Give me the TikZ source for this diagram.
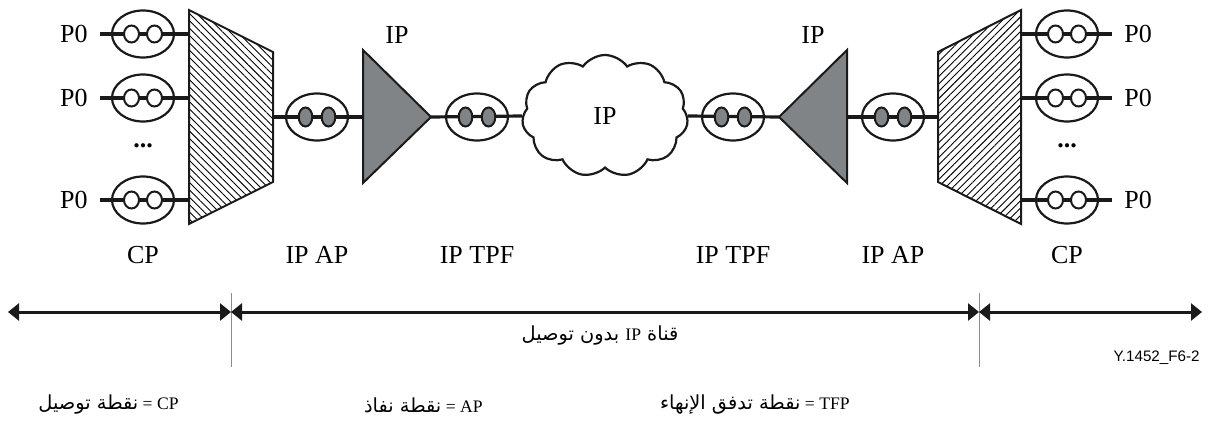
\documentclass[tikz,border=0pt]{standalone}
\usepackage{fontspec}
\setmainfont{Liberation Serif}
\setsansfont{Liberation Sans}
\newfontfamily\arabicfont[Script=Arabic,Scale=1.1]{DejaVu Sans}
\TeXXeTstate=1
\usetikzlibrary{shapes,shapes.geometric,shapes.symbols}
\usetikzlibrary{calc,arrows.meta,patterns.meta,positioning}
\definecolor{ink}{RGB}{26,26,26}
\definecolor{ipgray}{RGB}{128,132,135}
\tikzset{
  lbl/.style={font=\fontsize{13}{15}\selectfont, inner sep=0pt},
  small/.style={font=\fontsize{8.8}{10}\selectfont, inner sep=0pt},
  port/.style={ellipse, draw=ink, line width=1.1pt, minimum width=31pt, minimum height=23.5pt, inner sep=0pt},
  wdot/.style={ellipse, draw=ink, fill=white, line width=1pt, minimum width=7.5pt, minimum height=8.5pt, inner sep=0pt},
  gdot/.style={wdot, fill=ipgray, minimum width=6.8pt, minimum height=9.5pt},
  link/.style={draw=ink, line width=1.6pt},
  muxL/.style={draw=ink, line width=1pt, pattern={Lines[angle=-45, distance=2.6pt, line width=0.45pt]}},
  muxR/.style={draw=ink, line width=1pt, pattern={Lines[angle=45, distance=2.6pt, line width=0.45pt]}},
  tri/.style={draw=ink, line width=1pt, fill=ipgray},
  tick/.style={draw=black!45, line width=0.5pt},
  span/.style={draw=ink, line width=1.5pt, {Triangle[length=5.5pt,width=8.5pt]}-{Triangle[length=5.5pt,width=8.5pt]}}
}
\begin{document}
\begin{tikzpicture}[x=0.5pt,y=-0.5pt]
\useasboundingbox (0,0) rectangle (1213,427);

% multiplexers
\draw[muxL] (189,10) -- (273,52) -- (273,182) -- (189,224) -- cycle;
\draw[muxR] (1021,10) -- (938,52) -- (938,182) -- (1021,224) -- cycle;
\coordinate (muxL-out) at (273,117);
\coordinate (muxR-out) at (938,117);

% P0 ports, both sides
\foreach \n/\y in {1/34,2/98,3/200}{
  \coordinate (muxL\n) at (189,\y);
  \coordinate (muxR\n) at (1021,\y);
  \node[lbl, anchor=east, inner xsep=6pt] (p0L\n) at (100,\y) {P0};
  \node[lbl, anchor=west, inner xsep=6pt] (p0R\n) at (1112,\y) {P0};
  \node[port] (pL\n) at (143,\y) {};
  \node[port] (pR\n) at (1067,\y) {};
  \draw[link] (p0L\n.east) -- (muxL\n);
  \draw[link] (p0R\n.west) -- (muxR\n);
  \node[wdot] (pL\n-a) at (131.5,\y) {};
  \node[wdot] (pL\n-b) at (154.5,\y) {};
  \node[wdot] (pR\n-a) at (1055.5,\y) {};
  \node[wdot] (pR\n-b) at (1078.5,\y) {};
}
\node[lbl] (moreL) at (143,146) {\textbf{...}};
\node[lbl] (moreR) at (1067,146) {\textbf{...}};

% IP nodes
\draw[tri] (363,50) -- (431,117) -- (363,183) -- cycle;
\draw[tri] (847,50) -- (779,117) -- (847,183) -- cycle;
\coordinate (ipL-in) at (363,117);
\coordinate (ipL-out) at (431,117);
\coordinate (ipR-in) at (847,117);
\coordinate (ipR-out) at (779,117);
\node[lbl] (ipL) at (397,35) {IP};
\node[lbl] (ipR) at (813,35) {IP};

\node[cloud, cloud puffs=11, cloud puff arc=110, cloud ignores aspect, draw=ink, line width=1.1pt,
      minimum width=83pt, minimum height=61pt, lbl] (net) at (605,116) {IP};

% access and termination points
\node[port] (apL) at (317,117) {};
\node[port] (tpfL) at (477,117) {};
\node[port] (tpfR) at (733,117) {};
\node[port] (apR) at (893,117) {};
\draw[link] (muxL-out) -- (ipL-in);
\draw[link] (ipL-out) -- (net.west);
\draw[link] (net.east) -- (ipR-out);
\draw[link] (ipR-in) -- (muxR-out);
\foreach \p in {apL,tpfL,tpfR,apR}{
  \node[gdot] (\p-a) at ($(\p)+(-11.5,0)$) {};
  \node[gdot] (\p-b) at ($(\p)+(11.5,0)$) {};
}

% labels under the chain
\node[lbl] (cpL) at (143,255) {CP};
\node[lbl] (apLt) at (317,255) {IP AP};
\node[lbl] (tpfLt) at (477,255) {IP TPF};
\node[lbl] (tpfRt) at (733,255) {IP TPF};
\node[lbl] (apRt) at (893,255) {IP AP};
\node[lbl] (cpR) at (1067,255) {CP};

% spans
\coordinate (sL) at (8,312);
\coordinate (kL) at (231,312);
\coordinate (kR) at (979,312);
\coordinate (sR) at (1202,312);
\coordinate (kL-top) at (231,293);
\coordinate (kL-bot) at (231,367);
\coordinate (kR-top) at (979,293);
\coordinate (kR-bot) at (979,367);
\draw[tick] (kL-top) -- (kL-bot);
\draw[tick] (kR-top) -- (kR-bot);
\draw[span] (sL) -- (kL);
\draw[span] (kL) -- (kR);
\draw[span] (kR) -- (sR);
\node[small] (chan) at (600,336) {\arabicfont\beginR قناة \beginL{\rmfamily IP}\endL{} بدون توصيل\endR};
\node[font=\sffamily\fontsize{7.6}{9}\selectfont, inner sep=0pt, anchor=east] (fig) at (1200,358) {Y.1452\_F6-2};

% legend
\node[small, anchor=east] (lgCP) at (179,405) {{\arabicfont\beginR نقطة توصيل\endR}\ = CP};
\node[small, anchor=east] (lgAP) at (483,405) {{\arabicfont\beginR نقطة نفاذ\endR}\ = AP};
\node[small, anchor=east] (lgTFP) at (850,405) {{\arabicfont\beginR نقطة تدفق الإنهاء\endR}\ = TFP};
\end{tikzpicture}
\end{document}
